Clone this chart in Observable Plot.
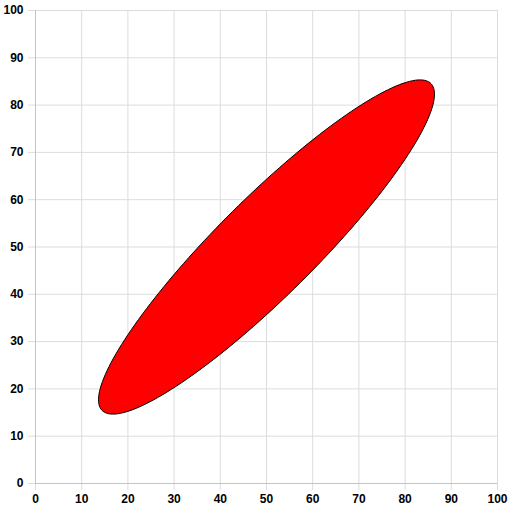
<!DOCTYPE html>
<html>
<head>
<meta charset="utf-8">
<script src="https://cdn.jsdelivr.net/npm/d3@7"></script>
<script src="https://cdn.jsdelivr.net/npm/@observablehq/plot@0.6"></script>
<style>
  body { margin: 0; background: #fff; }
  #chart svg { display: block; }
</style>
</head>
<body>
<div id="chart"></div>
<script>
// ellipse: centre, semi-axes, rotation (degrees)
const center = [50, 50];
const radii = [49.6, 10.5];
const rotation = [44.1];
const tickValues = [0, 10, 20, 30, 40, 50, 60, 70, 80, 90, 100];

// outline of the ellipse, in data units
const outline = d3.range(0, 360, 2).map(deg => {
  const t = deg * Math.PI / 180, r = rotation[0] * Math.PI / 180;
  const u = radii[0] * Math.cos(t), v = radii[1] * Math.sin(t);
  return {
    x: center[0] + u * Math.cos(r) - v * Math.sin(r),
    y: center[1] + u * Math.sin(r) + v * Math.cos(r)
  };
});

const chart = Plot.plot({
  width: 512,
  height: 512,
  marginLeft: 35,
  marginRight: 15,
  marginTop: 10,
  marginBottom: 29,
  style: {fontFamily: "'Liberation Sans', Arial, sans-serif", fontSize: "12px", color: "#000"},
  x: {domain: [0, 100]},
  y: {domain: [0, 100]},
  marks: [
    Plot.gridX(tickValues, {stroke: "#dcdcdc", strokeOpacity: 1}),
    Plot.gridY(tickValues, {stroke: "#dcdcdc", strokeOpacity: 1}),
    Plot.axisX(tickValues, {tickSize: 7, tickPadding: 4, stroke: "#dcdcdc", fontWeight: "bold", label: null}),
    Plot.axisY(tickValues, {tickSize: 7, tickPadding: 5, stroke: "#dcdcdc", fontWeight: "bold", label: null}),
    Plot.ruleX([0], {stroke: "#c4c4c4"}),
    Plot.ruleY([0], {stroke: "#c4c4c4"}),
    Plot.line(outline, {x: "x", y: "y", curve: "catmull-rom-closed", fill: "red", stroke: "black", strokeWidth: 1})
  ]
});

d3.select("#chart").append(() => chart);
</script>
</body>
</html>
